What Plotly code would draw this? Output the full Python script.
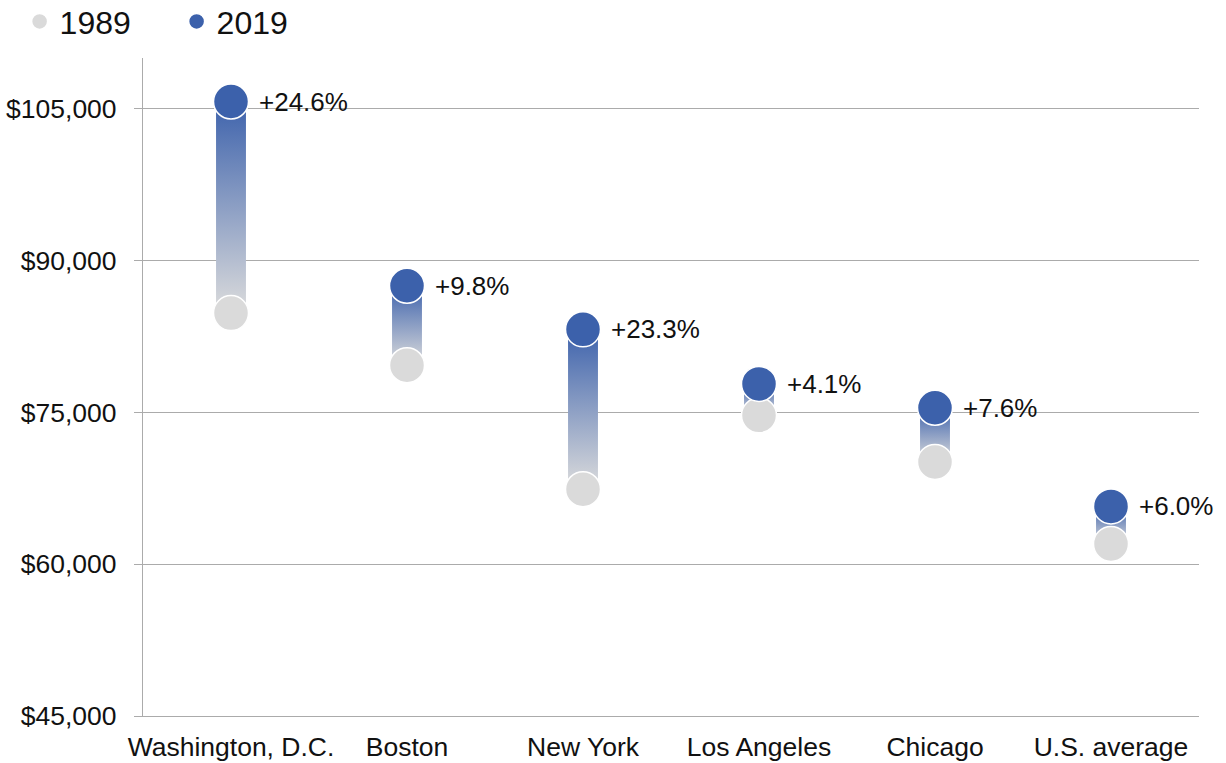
import plotly.graph_objects as go

categories = ["Washington, D.C.", "Boston", "New York", "Los Angeles", "Chicago", "U.S. average"]
values_1989 = [84800, 79650, 67400, 74700, 70100, 62000]
values_2019 = [105700, 87500, 83200, 77800, 75450, 65700]
change_labels = ["+24.6%", "+9.8%", "+23.3%", "+4.1%", "+7.6%", "+6.0%"]
y_ticks = [45000, 60000, 75000, 90000, 105000]

FONT = "Liberation Sans, Arial, sans-serif"
GREY = "#DADADA"
BLUE = "#3C61AB"
AXIS = "#ABABAB"
half_w = 0.085

fig = go.Figure()

for i, (a, b) in enumerate(zip(values_1989, values_2019)):
    fig.add_trace(go.Scatter(
        x=[i - half_w, i + half_w, i + half_w, i - half_w, i - half_w],
        y=[a, a, b, b, a],
        mode="lines", line=dict(width=0), fill="toself",
        fillgradient=dict(type="vertical", colorscale=[[0, "#DCDCDC"], [1, "#3D62AC"]]),
        showlegend=False, hoverinfo="skip",
    ))

x_idx = list(range(len(categories)))
fig.add_trace(go.Scatter(
    x=x_idx, y=values_1989, mode="markers", name="1989",
    marker=dict(size=35, color=GREY, line=dict(color="white", width=1.5)),
))
fig.add_trace(go.Scatter(
    x=x_idx, y=values_2019, mode="markers", name="2019",
    marker=dict(size=35, color=BLUE, line=dict(color="white", width=1.5)),
))

for i, (v, t) in enumerate(zip(values_2019, change_labels)):
    fig.add_annotation(x=i, y=v, text=t, showarrow=False, xanchor="left", yanchor="middle",
                       xshift=26, font=dict(family=FONT, size=26, color="#111111"))

fig.update_layout(
    width=1226, height=763,
    margin=dict(l=143, r=27, t=58, b=47, autoexpand=False),
    paper_bgcolor="white", plot_bgcolor="white",
    font=dict(family=FONT, size=26, color="#111111"),
    legend=dict(orientation="h", xref="container", yref="paper", x=0.016, y=1.097,
                yanchor="top", xanchor="left", font=dict(family=FONT, size=32, color="#111111"),
                itemsizing="trace", entrywidth=112, entrywidthmode="pixels",
                bgcolor="rgba(0,0,0,0)"),
    xaxis=dict(range=[-0.5, 5.5], tickvals=x_idx, ticktext=categories, showgrid=False,
               zeroline=False, showline=True, linecolor=AXIS, linewidth=1.2,
               ticks="", tickfont=dict(size=26.5), ticklabelstandoff=7),
    yaxis=dict(range=[45000, 110000], tickvals=y_ticks, tickformat="$,d",
               showgrid=True, gridcolor=AXIS, gridwidth=1.2, zeroline=False,
               showline=True, linecolor=AXIS, linewidth=1.2,
               ticks="outside", ticklen=8, tickcolor=AXIS, tickwidth=1.2,
               ticklabelstandoff=12, tickfont=dict(size=26.5)),
)

fig.write_html("out.html")
